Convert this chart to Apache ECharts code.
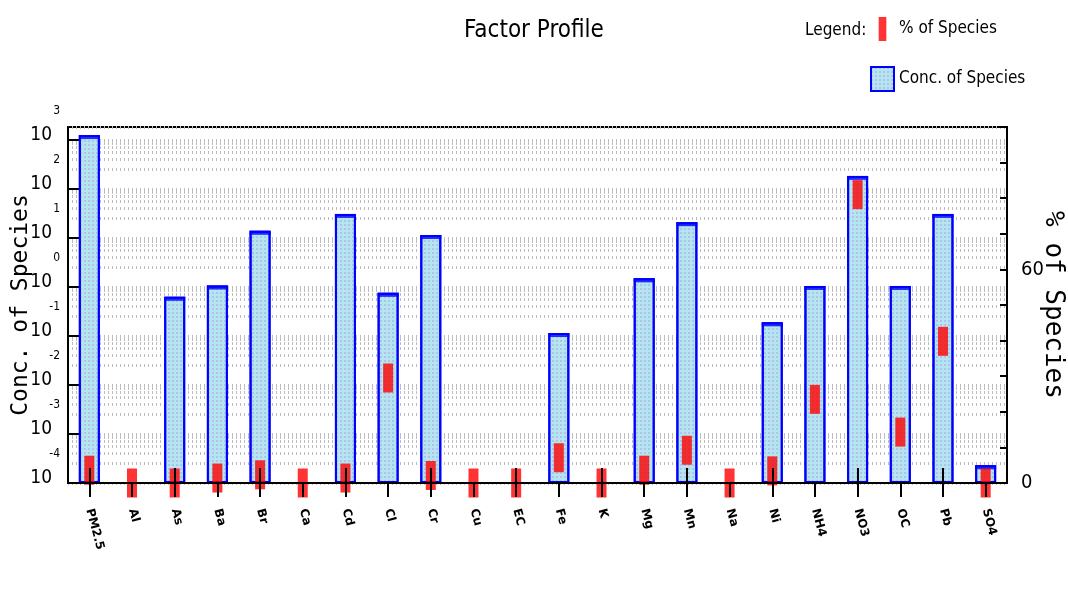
<!DOCTYPE html>
<html>
<head>
<meta charset="utf-8">
<script src="https://cdn.jsdelivr.net/npm/echarts@6/dist/echarts.min.js"></script>
<style>html,body{margin:0;padding:0;background:#fff}#c{width:1068px;height:598px}</style>
</head>
<body>
<div id="c"></div>
<script>
var categories = ["PM2.5","Al","As","Ba","Br","Ca","Cd","Cl","Cr","Cu","EC","Fe","K","Mg","Mn","Na","Ni","NH4","NO3","OC","Pb","SO4"];
var concValues = [1260, null, 0.63, 1.07, 14, null, 31, 0.76, 11.5, null, null, 0.115, null, 1.5, 21, null, 0.19, 1.05, 185, 1.05, 31, 0.00023];
var pctValues = [3.6, 0, 0, 1.4, 2.3, 0, 1.4, 29.5, 2.1, 0, 0, 7.1, 0, 3.6, 9.2, 0, 3.4, 23.5, 81, 14.3, 39.8, 0];
var leftTickExps = [-4,-3,-2,-1,0,1,2,3];
var rightTickLabels = [0, 60];

var chart = echarts.init(document.getElementById('c'), null, {renderer: 'canvas'});
var narrow = "'Liberation Sans Narrow', 'DejaVu Sans Condensed', 'Liberation Sans', sans-serif";
var option = {
  animation: false,
  backgroundColor: '#fff',
  title: [
    {text: 'Factor Profile', left: 'center', top: 14, textStyle: {fontFamily: narrow, fontSize: 24, fontWeight: 'normal', color: '#000'}},
    {text: 'Legend:', left: 800, top: 17, textStyle: {fontFamily: narrow, fontSize: 17, fontWeight: 'normal', color: '#000'}}
  ],
  legend: {
    orient: 'vertical', left: 865, top: 12, itemWidth: 23, itemHeight: 24, itemGap: 25,
    textStyle: {fontFamily: narrow, fontSize: 17, color: '#000'},
    data: [
      {name: '% of Species', icon: 'path://M0,0L8,0L8,25L0,25Z'},
      {name: 'Conc. of Species', icon: 'rect'}
    ]
  },
  grid: {left: 68, right: 61, top: 127, bottom: 115, containLabel: false, outerBoundsMode: 'none',
         show: true, borderColor: '#000', borderWidth: 2, backgroundColor: 'transparent'},
  xAxis: [
    {type: 'category', data: categories, position: 'bottom', z: 10, boundaryGap: true,
     axisLine: {show: true, lineStyle: {color: '#000', width: 2}},
     axisTick: {show: true, alignWithLabel: true, length: 14, lineStyle: {color: '#000', width: 2}},
     axisLabel: {rotate: -75, margin: 26, fontFamily: 'DejaVu Sans', fontSize: 12, fontWeight: 'bold', color: '#000', interval: 0},
     splitLine: {show: false}},
    {type: 'category', data: categories, position: 'bottom', z: 10, boundaryGap: true,
     axisLine: {show: false},
     axisTick: {show: true, inside: true, alignWithLabel: true, length: 15, lineStyle: {color: '#000', width: 2}},
     axisLabel: {show: false}, splitLine: {show: false}}
  ],
  yAxis: [
    {type: 'log', logBase: 10, min: 0.0001, max: Math.pow(10, 3.265), startValue: 0.0001, interval: 1, position: 'left', z: 0,
     name: 'Conc. of Species', nameLocation: 'middle', nameGap: 35, nameRotate: 90, nameMoveOverlap: false,
     nameTextStyle: {fontFamily: 'DejaVu Sans Mono', fontSize: 23, color: '#000'},
     axisLine: {show: true, lineStyle: {color: '#000', width: 2}},
     axisTick: {show: true, inside: true, length: 12, lineStyle: {color: '#000', width: 2}},
     minorTick: {show: false, splitNumber: 6},
     axisLabel: {margin: 8, showMinLabel: true, showMaxLabel: false, hideOverlap: false, verticalAlign: 'bottom', align: 'right',
       padding: [0, 0, -8, 0],
       formatter: function (v) {
         var e = Math.log10(v), r = Math.round(e);
         if (Math.abs(e - r) > 0.01 || leftTickExps.indexOf(r) < 0) return '';
         return '{b|' + r + '}\n{a|10}';
       },
       rich: {a: {fontFamily: narrow, fontSize: 19, lineHeight: 26, padding: [0, 8, 0, 0], color: '#000', align: 'right'},
              b: {fontFamily: narrow, fontSize: 12, lineHeight: 22, color: '#000', align: 'right'}}},
     splitLine: {show: true, lineStyle: {color: '#bdbdbd', width: 3, type: [1, 3]}},
     minorSplitLine: {show: true, lineStyle: {color: '#bdbdbd', width: 3, type: [1, 3]}}},
    {type: 'value', min: 0, max: 100, interval: 10, position: 'right', z: 10,
     name: '% of Species', nameLocation: 'middle', nameGap: 33, nameRotate: -90, nameMoveOverlap: false,
     nameTextStyle: {fontFamily: 'DejaVu Sans Mono', fontSize: 26, color: '#000'},
     axisLine: {show: true, lineStyle: {color: '#000', width: 2}},
     axisTick: {show: true, inside: true, length: 7, lineStyle: {color: '#000', width: 2}},
     axisLabel: {margin: 14, fontFamily: narrow, fontSize: 20, color: '#000',
       formatter: function (v) { return rightTickLabels.indexOf(v) >= 0 ? String(v) : ''; }},
     splitLine: {show: false}}
  ],
  series: [
    {name: 'Conc. of Species', type: 'bar', xAxisIndex: 0, yAxisIndex: 0, barWidth: 21, data: concValues, z: 2,
     itemStyle: {color: '#b3e6ef', borderColor: '#0000ff', borderWidth: 2,
       decal: {symbol: 'rect', symbolSize: 1, color: 'rgba(175,160,235,0.55)', dashArrayX: [2, 2], dashArrayY: [2, 2]}}},
    {name: 'cap', type: 'scatter', xAxisIndex: 0, yAxisIndex: 0, data: concValues, symbol: 'rect', symbolSize: [21, 4], symbolOffset: [0, 2],
     itemStyle: {color: '#0000ff'}, z: 3, silent: true},
    {name: '% of Species', type: 'scatter', xAxisIndex: 0, yAxisIndex: 1, data: pctValues, symbol: 'rect', symbolSize: [10, 29],
     itemStyle: {color: '#ff0000'}, z: 4}
  ]
};
chart.setOption(option);
</script>
</body>
</html>
